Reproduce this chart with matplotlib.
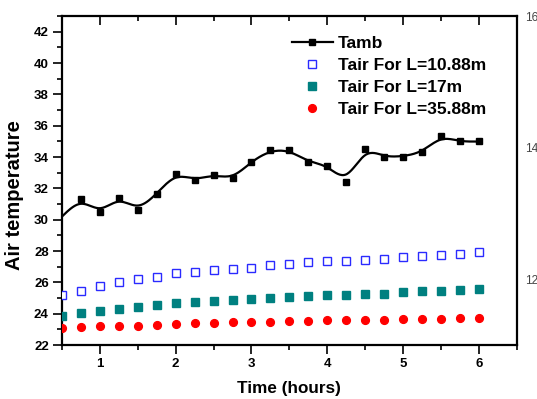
import numpy as np
import matplotlib
matplotlib.use("Agg")
import matplotlib.pyplot as plt
from matplotlib.ticker import MultipleLocator

plt.rcParams['font.family'] = ['Liberation Sans', 'DejaVu Sans']

time_h = [0.5, 0.75, 1.0, 1.25, 1.5, 1.75, 2.0, 2.25, 2.5, 2.75, 3.0, 3.25,
          3.5, 3.75, 4.0, 4.25, 4.5, 4.75, 5.0, 5.25, 5.5, 5.75, 6.0]
tamb = [30.2, 31.31, 30.46, 31.41, 30.63, 31.65, 32.93, 32.54, 32.86, 32.63, 33.71, 34.42,
        34.42, 33.71, 33.44, 32.43, 34.50, 34.03, 34.03, 34.31, 35.31, 34.99, 34.99]
tair_1088 = [25.19, 25.47, 25.77, 26.03, 26.22, 26.37, 26.58, 26.66, 26.77, 26.86, 26.92, 27.13,
             27.18, 27.30, 27.37, 27.37, 27.41, 27.48, 27.60, 27.69, 27.73, 27.81, 27.92]
tair_17 = [23.85, 24.04, 24.19, 24.32, 24.43, 24.58, 24.66, 24.73, 24.83, 24.88, 24.94, 25.00,
           25.07, 25.15, 25.21, 25.21, 25.28, 25.28, 25.39, 25.43, 25.47, 25.51, 25.58]
tair_3588 = [23.11, 23.15, 23.19, 23.23, 23.23, 23.28, 23.34, 23.38, 23.38, 23.45, 23.47, 23.49,
             23.53, 23.55, 23.60, 23.60, 23.60, 23.62, 23.64, 23.66, 23.68, 23.70, 23.74]
labels = ['Tamb', 'Tair For L=10.88m', 'Tair For L=17m', 'Tair For L=35.88m']
right_ticks = [12, 14, 16]


def smooth_spline(x, y, npts=400):
    x = np.asarray(x, float)
    y = np.asarray(y, float)
    s = y.copy()
    s[1:-1] = 0.7 * y[1:-1] + 0.15 * (y[:-2] + y[2:])
    n = len(x)
    h = np.diff(x)
    A = np.zeros((n, n))
    b = np.zeros(n)
    A[0, 0] = 1
    A[-1, -1] = 1
    for i in range(1, n - 1):
        A[i, i - 1] = h[i - 1]
        A[i, i] = 2 * (h[i - 1] + h[i])
        A[i, i + 1] = h[i]
        b[i] = 3 * ((s[i + 1] - s[i]) / h[i] - (s[i] - s[i - 1]) / h[i - 1])
    c = np.linalg.solve(A, b)
    xs = np.linspace(x[0], x[-1], npts)
    idx = np.clip(np.searchsorted(x, xs) - 1, 0, n - 2)
    dx = xs - x[idx]
    bb = (s[idx + 1] - s[idx]) / h[idx] - h[idx] * (2 * c[idx] + c[idx + 1]) / 3
    dd = (c[idx + 1] - c[idx]) / (3 * h[idx])
    ys = s[idx] + bb * dx + c[idx] * dx ** 2 + dd * dx ** 3
    return xs, ys


fig = plt.figure(figsize=(5.37, 3.99), dpi=100)
ax = fig.add_axes([62 / 537, 1 - 345 / 399, (516.7 - 62) / 537, (345 - 16) / 399])

xs, ys = smooth_spline(time_h, tamb)
ax.plot(xs, ys, color='black', lw=1.6, zorder=3)
ax.plot(time_h[1:], tamb[1:], ls='none', marker='s', ms=5, color='black', zorder=4)
h_tamb, = ax.plot([], [], color='black', lw=1.6, marker='s', ms=5)

h1, = ax.plot(time_h, tair_1088, ls='none', marker='s', ms=5.2, mfc='white',
              mec='#2a2aff', mew=1.0, zorder=3)
h2, = ax.plot(time_h, tair_17, ls='none', marker='s', ms=5.2, color='#008080', zorder=3)
h3, = ax.plot(time_h, tair_3588, ls='none', marker='o', ms=5.6, color='#ff0000', zorder=3)

ax.set_xlim(0.5, 6.5)
ax.set_ylim(22, 43)
ax.xaxis.set_major_locator(MultipleLocator(1))
ax.xaxis.set_minor_locator(MultipleLocator(0.5))
ax.yaxis.set_major_locator(MultipleLocator(2))
ax.yaxis.set_minor_locator(MultipleLocator(1))

for sp in ax.spines.values():
    sp.set_linewidth(1.6)

ax.tick_params(which='both', top=True, right=True, width=1.2)
ax.tick_params(which='major', length=6.5)
ax.tick_params(which='minor', length=3.8)
ax.tick_params(axis='x', which='both', bottom=True, direction='out')
ax.tick_params(axis='y', which='both', left=True, direction='out')
ax.tick_params(axis='both', which='major', labelsize=9.5, pad=3)
for lab in ax.get_xticklabels() + ax.get_yticklabels():
    lab.set_fontweight('bold')

# top and right ticks point inward
for t in ax.xaxis.get_major_ticks() + ax.xaxis.get_minor_ticks():
    t.tick2line.set_marker(matplotlib.lines.TICKDOWN)
for t in ax.yaxis.get_major_ticks() + ax.yaxis.get_minor_ticks():
    t.tick2line.set_marker(matplotlib.lines.TICKLEFT)

ax.set_xlabel('Time (hours)', fontsize=12.3, fontweight='bold')
ax.xaxis.set_label_coords(0.5, -0.108)
ax.set_ylabel('Air temperature', fontsize=14.5, fontweight='bold')
ax.yaxis.set_label_coords(-0.084, 0.456)

ax2 = ax.twinx()
ax2.set_ylim(11, 15.98)
ax2.set_yticks(right_ticks)
ax2.tick_params(axis='y', length=0, pad=6, labelsize=8.5, labelcolor='#444444')
for sp in ax2.spines.values():
    sp.set_visible(False)

leg = ax.legend([h_tamb, h1, h2, h3], labels, loc='upper left',
                bbox_to_anchor=(0.505, 0.94), frameon=False, borderpad=0,
                borderaxespad=0, handlelength=2.36, handletextpad=0.29,
                labelspacing=0.39, numpoints=1,
                prop={'size': 12.5, 'weight': 'bold'})

fig.savefig('out.png', dpi=100, facecolor='white')
